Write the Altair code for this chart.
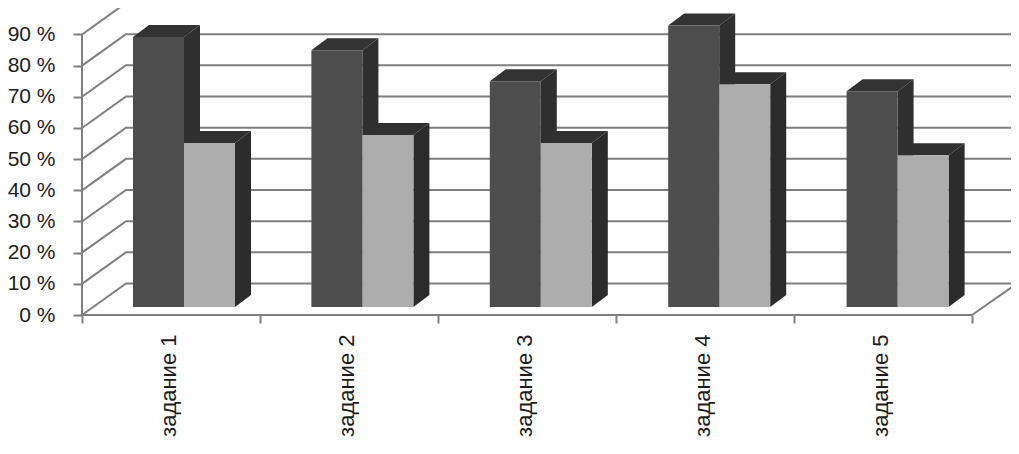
import json
import altair as alt
import pandas as pd

categories = ["задание 1", "задание 2", "задание 3", "задание 4", "задание 5"]
series_dark = [86.6, 82.4, 72.4, 90.3, 69.2]
series_light = [52.6, 55.2, 52.6, 71.5, 48.7]
tick_values = [0, 10, 20, 30, 40, 50, 60, 70, 80, 90]

# 3D projection constants, in scale units (1 x unit = one category, y unit = percent)
PX_X = 178.0
PX_Y = 3.117
WALL_DX = 44 / PX_X
WALL_DY = 31.5 / PX_Y
X_END = 5.253
BAR_START = 51 / PX_X
BAR_STEP_EXTRA = 0.4 / PX_X
BAR_W = 51 / PX_X
BAR_DX = 16 / PX_X
BAR_DY = 12 / PX_Y
BAR_BASE = 8 / PX_Y
N = len(categories)
VIEW_W = 929
VIEW_H = 307

x_scale = alt.Scale(domain=[0, VIEW_W / PX_X], nice=False, zero=False)
y_scale = alt.Scale(domain=[0, VIEW_H / PX_Y], nice=False, zero=False)

grid_rows = []
for v in tick_values:
    grid_rows += [
        {"g": v, "i": 0, "x": 0, "y": v},
        {"g": v, "i": 1, "x": WALL_DX, "y": v + WALL_DY},
        {"g": v, "i": 2, "x": X_END, "y": v + WALL_DY},
    ]
grid_rows += [
    {"g": "floor", "i": 0, "x": N, "y": 0},
    {"g": "floor", "i": 1, "x": X_END, "y": WALL_DY},
]
grid_df = pd.DataFrame(grid_rows)


def faces(values, offset):
    front, side, top = [], [], []
    for k, v in enumerate(values):
        x0 = k * (1 + BAR_STEP_EXTRA) + BAR_START + offset * BAR_W
        x1 = x0 + BAR_W
        t = BAR_BASE + v
        b = BAR_BASE
        front.append({"x": x0, "x2": x1, "y": t, "y2": b})
        side += [
            {"g": k, "x": x1, "y": t, "y2": b},
            {"g": k, "x": x1 + BAR_DX, "y": t + BAR_DY, "y2": b + BAR_DY},
        ]
        top += [
            {"g": k, "x": x0, "y": t, "y2": t},
            {"g": k, "x": x0 + BAR_DX, "y": t + BAR_DY, "y2": t},
            {"g": k, "x": x1, "y": t + BAR_DY, "y2": t},
            {"g": k, "x": x1 + BAR_DX, "y": t + BAR_DY, "y2": t + BAR_DY},
        ]
    return pd.DataFrame(front), pd.DataFrame(side), pd.DataFrame(top)


cats_js = json.dumps(categories, ensure_ascii=False)
x_axis = alt.Axis(
    values=[i / 2 for i in range(0, 2 * N + 1)],
    labelExpr=f"datum.value % 1 == 0.5 ? {cats_js}[floor(datum.value)] : ''",
    tickOpacity={"condition": {"test": "datum.value % 1 != 0", "value": 0}, "value": 1},
    title=None,
    grid=False,
    domain=False,
    tickSize=8,
    tickWidth=2,
    tickColor="#7f7f7f",
    labelAngle=270,
    labelAlign="right",
    labelBaseline="middle",
    labelPadding=11,
    labelOffset=-3,
    labelFontSize=22,
    labelColor="#1c1c1c",
    labelOverlap=False,
    labelBound=False,
    labelFlush=False,
)
y_axis = alt.Axis(
    values=tick_values,
    labelExpr="datum.value + ' %'",
    title=None,
    grid=False,
    domain=False,
    tickSize=9,
    tickWidth=2,
    tickColor="#7f7f7f",
    labelPadding=18,
    labelFontSize=21,
    labelColor="#1c1c1c",
    labelOverlap=False,
    labelBound=False,
)

X = alt.X("x:Q", scale=x_scale, axis=x_axis)
Y = alt.Y("y:Q", scale=y_scale, axis=y_axis)

grid = alt.Chart(grid_df).mark_line(color="#7f7f7f", strokeWidth=2).encode(
    x=X, y=Y, detail="g:N", order="i:Q"
)
frame_v = alt.Chart(pd.DataFrame({"x": [0], "y": [0], "y2": [tick_values[-1]]})).mark_rule(
    color="#7f7f7f", strokeWidth=2
).encode(x=X, y=Y, y2="y2:Q")
frame_h = alt.Chart(pd.DataFrame({"x": [0], "x2": [N], "y": [0]})).mark_rule(
    color="#7f7f7f", strokeWidth=2
).encode(x=X, x2="x2:Q", y=Y)


def bar_layers(values, offset, front_color, side_color, top_color):
    front, side, top = faces(values, offset)
    return [
        alt.Chart(side).mark_area(color=side_color, opacity=1).encode(x=X, y=Y, y2="y2:Q", detail="g:N"),
        alt.Chart(top).mark_area(color=top_color, opacity=1).encode(x=X, y=Y, y2="y2:Q", detail="g:N"),
        alt.Chart(front).mark_rect(color=front_color, opacity=1).encode(x=X, x2="x2:Q", y=Y, y2="y2:Q"),
    ]


layers = [grid, frame_v, frame_h]
layers += bar_layers(series_dark, 0, "#4d4d4d", "#2f2f2f", "#333333")
layers += bar_layers(series_light, 1, "#adadad", "#2b2b2b", "#303030")

chart = alt.layer(*layers).properties(
    width=VIEW_W,
    height=VIEW_H,
    padding={"left": 74, "top": 0, "right": 0, "bottom": 128},
    autosize=alt.AutoSizeParams(type="none"),
    background="white",
).configure_view(stroke=None).configure_axis(
    labelFont="Liberation Sans"
)

chart.save("out.html", embed_options={"renderer": "svg", "actions": False})
